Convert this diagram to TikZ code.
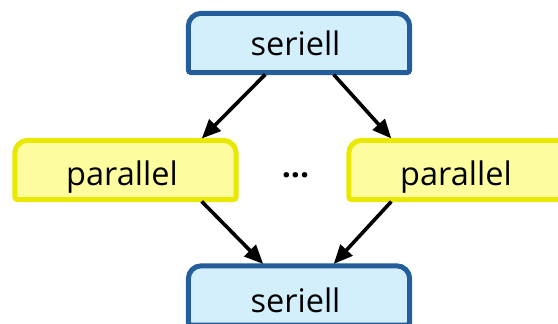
\documentclass[tikz,border=0pt]{standalone}
\usepackage{fontspec}
\setmainfont{Open Sans}
\usetikzlibrary{arrows.meta,backgrounds}

\definecolor{serBorder}{HTML}{235E9B}
\definecolor{serFill}{HTML}{D4EFFC}
\definecolor{parBorder}{HTML}{E8E800}
\definecolor{parFill}{HTML}{FDFD9F}

\tikzset{
  stage/.style={inner sep=0pt, minimum width=221pt, minimum height=59pt,
    font=\fontsize{32.5}{39}\selectfont, text depth=0pt,
    execute at end node=\hspace{7pt}},
  serstage/.style={stage, text height=24pt},
  parstage/.style={stage, text height=30pt},
  serframe/.style={draw=serBorder, fill=serFill, line width=5pt},
  parframe/.style={draw=parBorder, fill=parFill, line width=5pt},
  flow/.style={line width=3.6pt, -{Triangle[length=19pt,width=16pt]},
    shorten <=2.5pt, shorten >=2.5pt},
}

% box outline: wide rounded top corners, nearly square bottom corners
\newcommand{\stageframe}[2]{%
  \path[#2]
    ([yshift=3pt]#1.south west) -- ([yshift=-13pt]#1.north west)
    arc[start angle=180, end angle=90, radius=13pt]
    -- ([xshift=-13pt]#1.north east)
    arc[start angle=90, end angle=0, radius=13pt]
    -- ([yshift=3pt]#1.south east)
    arc[start angle=0, end angle=-90, radius=3pt]
    -- ([xshift=3pt]#1.south west)
    arc[start angle=270, end angle=180, radius=3pt] -- cycle;}

\begin{document}
\begin{tikzpicture}[x=1pt, y=-1pt]
  \useasboundingbox (0,0) rectangle (558,324);
  \clip (0,0) rectangle (558,324);

  \node[serstage] (top) at (299,43)    {seriell};
  \node[parstage] (lp)  at (125.5,170) {parallel};
  \node[parstage] (rp)  at (459.5,170) {parallel};
  \node[serstage, text height=33pt] (bot) at (299,295.5) {seriell};
  \node[font=\fontsize{32}{38}\selectfont\bfseries, inner sep=0pt] (dots) at (295.5,175.5) {...};

  \begin{scope}[on background layer]
    \stageframe{top}{serframe}
    \stageframe{lp}{parframe}
    \stageframe{rp}{parframe}
    \stageframe{bot}{serframe}
  \end{scope}

  \draw[flow] ([xshift=-32pt]top.south) -- ([xshift=74.5pt]lp.north);
  \draw[flow] ([xshift=33pt]top.south)  -- ([xshift=-66.5pt]rp.north);
  \draw[flow] ([xshift=74.5pt]lp.south) -- ([xshift=-34pt]bot.north);
  \draw[flow] ([xshift=-66.5pt]rp.south) -- ([xshift=33pt]bot.north);
\end{tikzpicture}
\end{document}
